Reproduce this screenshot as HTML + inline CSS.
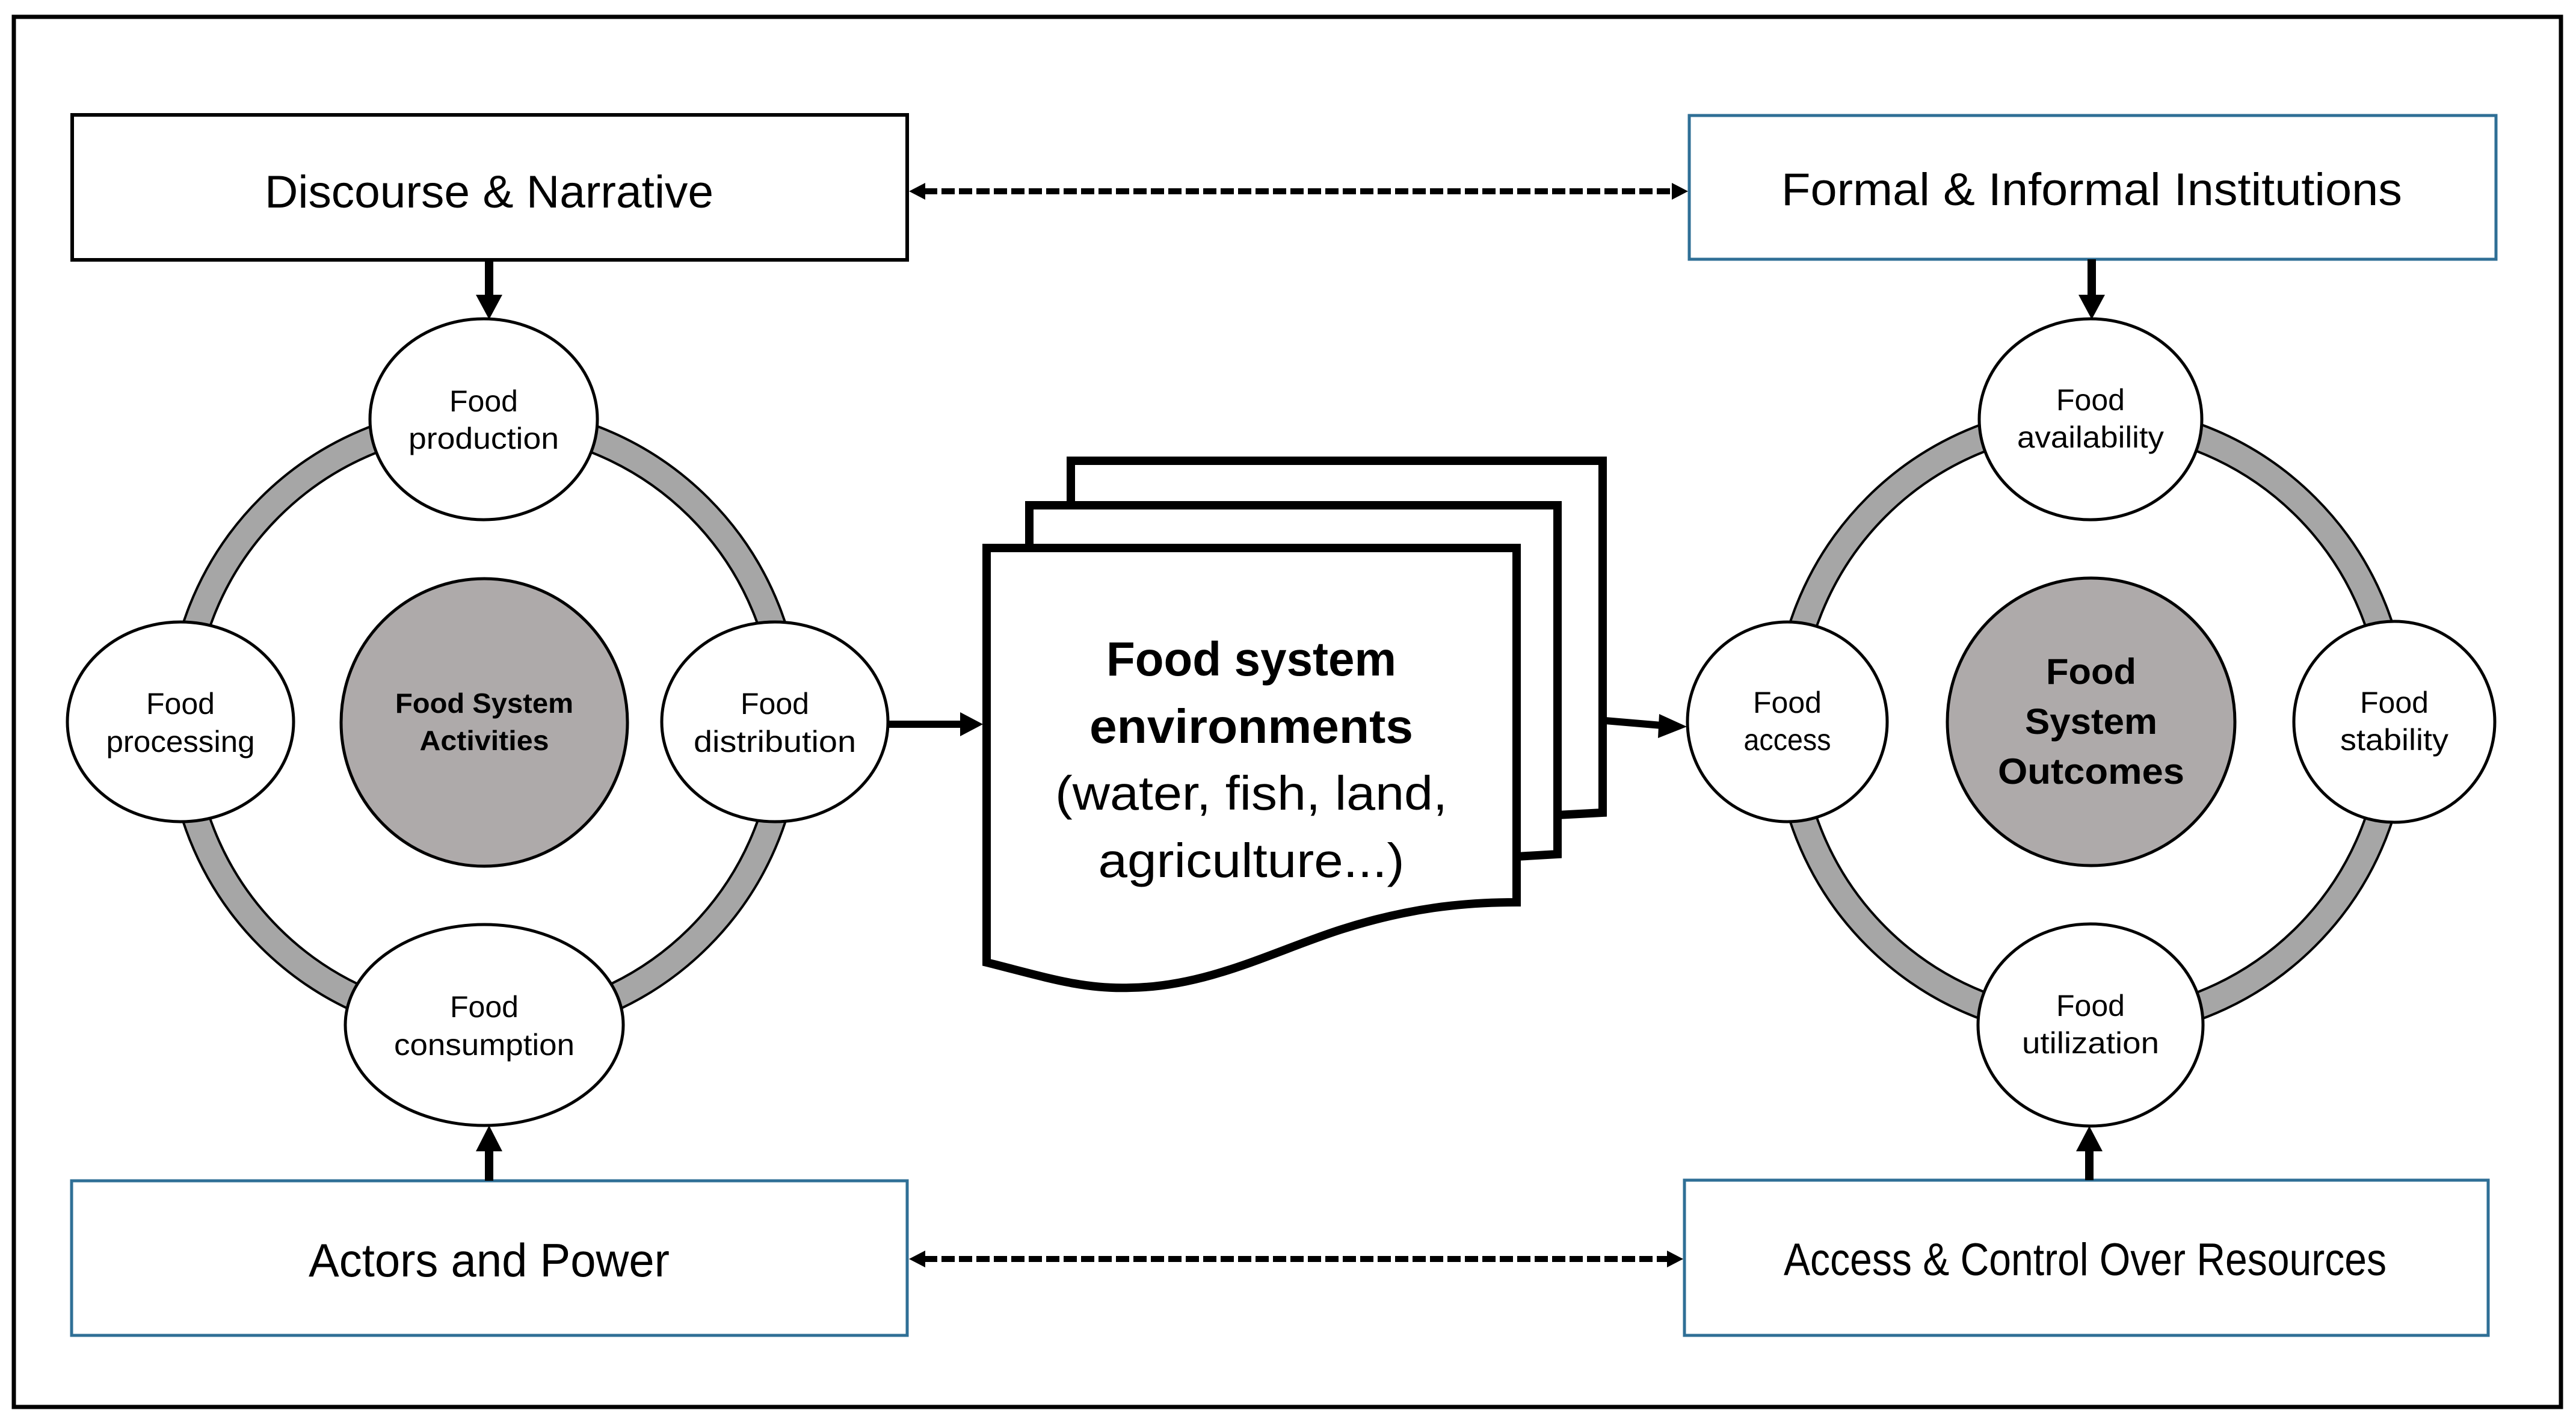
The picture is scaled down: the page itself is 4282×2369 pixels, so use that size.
<!DOCTYPE html>
<html><head><meta charset="utf-8"><style>html,body{margin:0;padding:0;background:#fff}svg{display:block}</style></head>
<body>
<svg width="4282" height="2369" viewBox="0 0 4282 2369" xmlns="http://www.w3.org/2000/svg" font-family="'Liberation Sans', sans-serif">
<defs>
<marker id="ah" markerWidth="10" markerHeight="10" refX="9" refY="5" orient="auto" markerUnits="userSpaceOnUse" viewBox="0 0 10 10"><path d="M0,0 L10,5 L0,10 z" fill="#000"/></marker>
</defs>
<rect x="0" y="0" width="4282" height="2369" fill="#fff"/>
<rect x="23" y="28" width="4234" height="2311" fill="none" stroke="#000" stroke-width="7"/>

<!-- boxes -->
<rect x="120" y="191" width="1388" height="241" fill="#fff" stroke="#000" stroke-width="6"/>
<text x="813" y="345" font-size="76" text-anchor="middle" textLength="746" lengthAdjust="spacingAndGlyphs">Discourse &amp; Narrative</text>
<rect x="2808" y="192" width="1341" height="239" fill="#fff" stroke="#2f6f96" stroke-width="5"/>
<text x="3477" y="341" font-size="76" text-anchor="middle" textLength="1032" lengthAdjust="spacingAndGlyphs">Formal &amp; Informal Institutions</text>
<rect x="119" y="1963" width="1389" height="257" fill="#fff" stroke="#2f6f96" stroke-width="5"/>
<text x="813" y="2122" font-size="78" text-anchor="middle" textLength="600" lengthAdjust="spacingAndGlyphs">Actors and Power</text>
<rect x="2800" y="1962" width="1336" height="258" fill="#fff" stroke="#2f6f96" stroke-width="5"/>
<text x="3466" y="2120" font-size="76" text-anchor="middle" textLength="1002" lengthAdjust="spacingAndGlyphs">Access &amp; Control Over Resources</text>

<!-- dashed arrows -->
<line x1="1536" y1="318" x2="2780" y2="318" stroke="#000" stroke-width="10" stroke-dasharray="22 7"/>
<path d="M1511,318 L1538,304 L1538,332 z" fill="#000"/>
<path d="M2806,318 L2779,304 L2779,332 z" fill="#000"/>
<line x1="1536" y1="2093" x2="2772" y2="2093" stroke="#000" stroke-width="10" stroke-dasharray="22 7"/>
<path d="M1511,2093 L1538,2079 L1538,2107 z" fill="#000"/>
<path d="M2798,2093 L2771,2079 L2771,2107 z" fill="#000"/>

<!-- vertical arrows -->
<rect x="806" y="432" width="14" height="62" fill="#000"/><path d="M791,490 L835,490 L813,531 z" fill="#000"/>
<rect x="3470" y="431" width="14" height="63" fill="#000"/><path d="M3455,490 L3499,490 L3477,531 z" fill="#000"/>
<rect x="806" y="1910" width="14" height="53" fill="#000"/><path d="M791,1914 L835,1914 L813,1871 z" fill="#000"/>
<rect x="3466" y="1910" width="14" height="52" fill="#000"/><path d="M3451,1914 L3495,1914 L3473,1872 z" fill="#000"/>

<!-- rings -->
<circle cx="805" cy="1201" r="505" fill="none" stroke="#000" stroke-width="48"/>
<circle cx="805" cy="1201" r="505" fill="none" stroke="#a6a6a6" stroke-width="40"/>
<circle cx="3476" cy="1200" r="505" fill="none" stroke="#000" stroke-width="48"/>
<circle cx="3476" cy="1200" r="505" fill="none" stroke="#a6a6a6" stroke-width="40"/>

<g stroke="#000" stroke-width="5">
<ellipse cx="805" cy="1201" rx="238" ry="239" fill="#aeaaaa"/>
<ellipse cx="804" cy="697" rx="189" ry="167" fill="#fff"/>
<ellipse cx="300" cy="1200" rx="188" ry="166" fill="#fff"/>
<ellipse cx="1288" cy="1200" rx="188" ry="166" fill="#fff"/>
<ellipse cx="805" cy="1704" rx="231" ry="167" fill="#fff"/>
<ellipse cx="3476" cy="1200" rx="239" ry="239" fill="#aeaaaa"/>
<ellipse cx="3475" cy="697" rx="185" ry="167" fill="#fff"/>
<ellipse cx="2971" cy="1200" rx="166" ry="166" fill="#fff"/>
<ellipse cx="3980" cy="1200" rx="167" ry="167" fill="#fff"/>
<ellipse cx="3475" cy="1704" rx="187" ry="168" fill="#fff"/>
</g>

<g font-size="50" text-anchor="middle">
<text x="804" y="684">Food</text><text x="804" y="746" textLength="250" lengthAdjust="spacingAndGlyphs">production</text>
<text x="300" y="1187">Food</text><text x="300" y="1250" textLength="247" lengthAdjust="spacingAndGlyphs">processing</text>
<text x="1288" y="1187">Food</text><text x="1288" y="1250" textLength="270" lengthAdjust="spacingAndGlyphs">distribution</text>
<text x="805" y="1691">Food</text><text x="805" y="1754" textLength="300" lengthAdjust="spacingAndGlyphs">consumption</text>
<text x="3475" y="682">Food</text><text x="3475" y="744" textLength="244" lengthAdjust="spacingAndGlyphs">availability</text>
<text x="2971" y="1185">Food</text><text x="2971" y="1247" textLength="145" lengthAdjust="spacingAndGlyphs">access</text>
<text x="3980" y="1185">Food</text><text x="3980" y="1247" textLength="180" lengthAdjust="spacingAndGlyphs">stability</text>
<text x="3475" y="1689">Food</text><text x="3475" y="1751" textLength="228" lengthAdjust="spacingAndGlyphs">utilization</text>
</g>
<g font-weight="bold" text-anchor="middle">
<text x="805" y="1185" font-size="46" textLength="296" lengthAdjust="spacingAndGlyphs">Food System</text>
<text x="805" y="1247" font-size="46" textLength="215" lengthAdjust="spacingAndGlyphs">Activities</text>
<text x="3476" y="1137" font-size="60" textLength="150" lengthAdjust="spacingAndGlyphs">Food</text>
<text x="3476" y="1220" font-size="60" textLength="220" lengthAdjust="spacingAndGlyphs">System</text>
<text x="3476" y="1303" font-size="60" textLength="310" lengthAdjust="spacingAndGlyphs">Outcomes</text>
</g>

<!-- horizontal arrows -->
<line x1="1476" y1="1204" x2="1600" y2="1204" stroke="#000" stroke-width="12"/>
<path d="M1596,1184 L1634,1204 L1596,1224 z" fill="#000"/>
<line x1="2668" y1="1198" x2="2762" y2="1206" stroke="#000" stroke-width="12"/>
<path d="M2758,1187 L2804,1208 L2756,1227 z" fill="#000"/>

<!-- documents -->
<g stroke="#000" stroke-width="14" fill="#fff" stroke-linejoin="miter">
<path d="M1780,900 L1780,766 L2664,766 L2664,1351 L2589,1355"/>
<path d="M1711,904 L1711,840 L2589,840 L2589,1420 L2521,1424"/>
<path d="M1640,1600 L1640,911 L2521,911 L2521,1500 C2430,1500 2340,1510 2230,1545 C2120,1580 2010,1640 1880,1642 C1800,1645 1740,1625 1640,1600 z"/>
</g>
<g font-size="80" text-anchor="middle">
<text x="2080" y="1123" font-weight="bold" textLength="482" lengthAdjust="spacingAndGlyphs">Food system</text>
<text x="2080" y="1235" font-weight="bold" textLength="538" lengthAdjust="spacingAndGlyphs">environments</text>
<text x="2080" y="1346" textLength="652" lengthAdjust="spacingAndGlyphs">(water, fish, land,</text>
<text x="2080" y="1458" textLength="509" lengthAdjust="spacingAndGlyphs">agriculture...)</text>
</g>
</svg>
</body></html>
